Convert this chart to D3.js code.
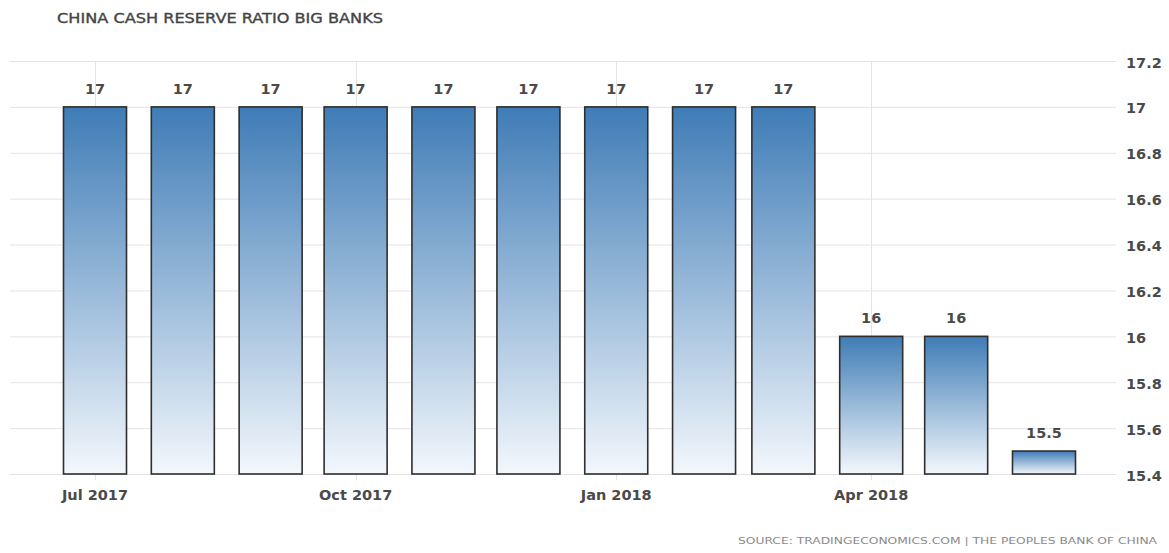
<!DOCTYPE html>
<html><head><meta charset="utf-8">
<script src="https://cdn.jsdelivr.net/npm/d3@7"></script>
<style>body{margin:0;background:#fff}svg{display:block}</style>
</head><body>
<script>
const months = ["2017-07-01","2017-08-01","2017-09-01","2017-10-01","2017-11-01","2017-12-01","2018-01-01","2018-02-01","2018-03-01","2018-04-01","2018-05-01","2018-06-01"];
const values = [17,17,17,17,17,17,17,17,17,16,16,15.5];
const valueLabels = ["17","17","17","17","17","17","17","17","17","16","16","15.5"];
const xTicks = ["2017-07-01","2017-10-01","2018-01-01","2018-04-01"];
const xTickLabels = ["Jul 2017","Oct 2017","Jan 2018","Apr 2018"];
const yTicks = [15.4,15.6,15.8,16,16.2,16.4,16.6,16.8,17,17.2];
const title = "CHINA CASH RESERVE RATIO BIG BANKS";
const source = "SOURCE: TRADINGECONOMICS.COM  |  THE PEOPLES BANK OF CHINA";

const W=1169,H=553;
const svg=d3.select("body").append("svg").attr("width",W).attr("height",H);
const parse=d3.utcParse("%Y-%m-%d");
const x=d3.scaleUtc().domain([parse("2017-07-01"),parse("2018-06-01")]).range([95,1044]);
const y=d3.scaleLinear().domain([15.4,17.2]).range([474,61]);
const bw=63;
const FONT="DejaVu Sans, Verdana, sans-serif";

const defs=svg.append("defs");
const g=defs.append("linearGradient").attr("id","bg").attr("x1",0).attr("y1",0).attr("x2",0).attr("y2",1);
g.append("stop").attr("offset","0%").attr("stop-color","#3f7cb6");
g.append("stop").attr("offset","100%").attr("stop-color","#f3f7fc");

// grid
svg.append("g").selectAll("line").data(yTicks).join("line")
  .attr("x1",10).attr("x2",1116).attr("y1",d=>y(d)+0.5).attr("y2",d=>y(d)+0.5)
  .attr("stroke","#e4e4e4").attr("stroke-width",1);
svg.append("g").selectAll("line").data(xTicks).join("line")
  .attr("x1",d=>Math.round(x(parse(d)))+0.5).attr("x2",d=>Math.round(x(parse(d)))+0.5)
  .attr("y1",y(17.2)).attr("y2",y(15.4)+6)
  .attr("stroke","#e4e4e4").attr("stroke-width",1);

// bars
svg.append("g").selectAll("rect").data(values).join("rect")
  .attr("x",(d,i)=>x(parse(months[i]))-bw/2)
  .attr("width",bw)
  .attr("y",d=>y(d))
  .attr("height",d=>y(15.4)-y(d))
  .attr("fill","url(#bg)").attr("stroke","#2e2e2e").attr("stroke-width",1.6);

// value labels
svg.append("g").selectAll("text").data(values).join("text")
  .attr("x",(d,i)=>x(parse(months[i])))
  .attr("y",d=>y(d)-13)
  .attr("text-anchor","middle")
  .attr("font-family",FONT).attr("font-size",14.5).attr("font-weight","bold")
  .attr("fill","#4a4a4a")
  .text((d,i)=>valueLabels[i]);

// y axis labels
svg.append("g").selectAll("text").data(yTicks).join("text")
  .attr("x",1126).attr("y",d=>y(d)+6.5)
  .attr("font-family",FONT).attr("font-size",14.5).attr("font-weight","bold")
  .attr("fill","#4a4a4a")
  .text(d=>d3.format("")(+d.toFixed(1)));

// x axis labels
svg.append("g").selectAll("text").data(xTicks).join("text")
  .attr("x",d=>x(parse(d))).attr("y",500)
  .attr("text-anchor","middle")
  .attr("font-family",FONT).attr("font-size",14.5).attr("font-weight","bold")
  .attr("fill","#4a4a4a")
  .text((d,i)=>xTickLabels[i]);

svg.append("text").attr("x",57).attr("y",23)
  .attr("font-family",FONT).attr("font-size",14)
  .attr("fill","#444").attr("stroke","#444").attr("stroke-width",0.35)
  .attr("textLength",326).attr("lengthAdjust","spacingAndGlyphs")
  .text(title);

svg.append("text").attr("x",738).attr("y",544)
  .attr("font-family",FONT).attr("font-size",9.5)
  .attr("fill","#8a8a8a").attr("textLength",419).attr("lengthAdjust","spacingAndGlyphs")
  .text(source);
</script>
</body></html>
